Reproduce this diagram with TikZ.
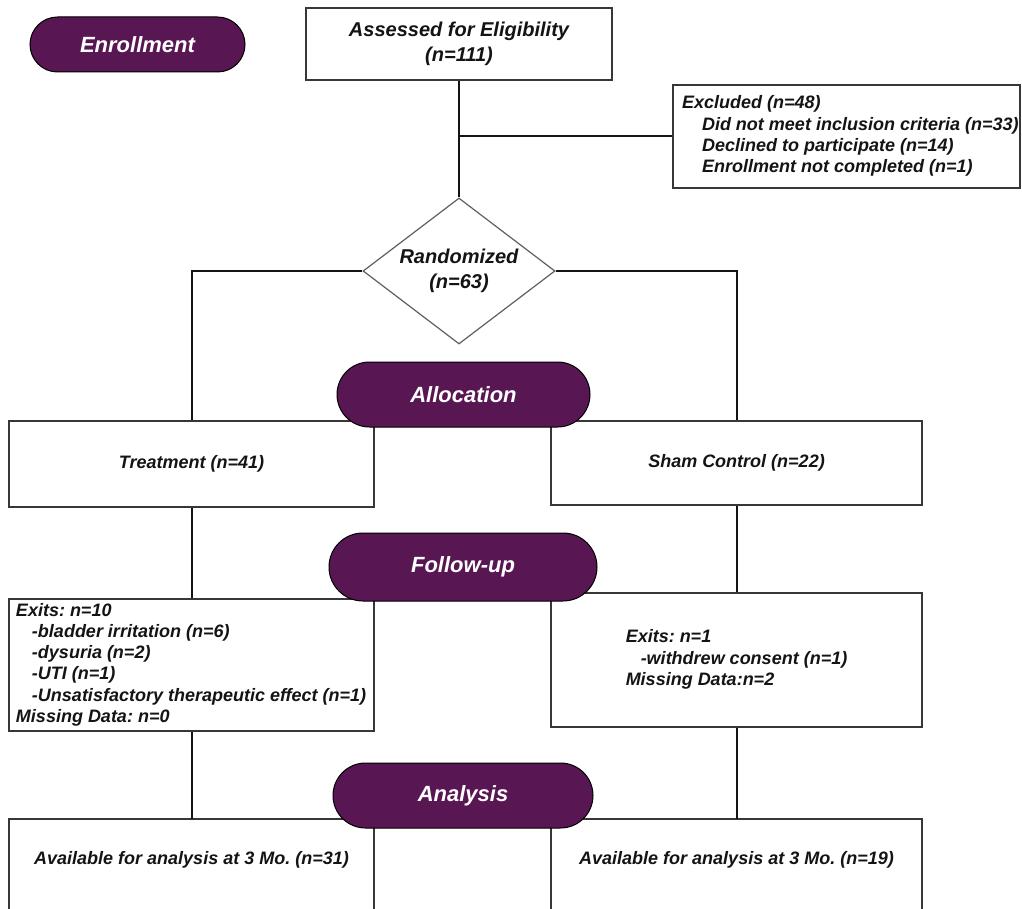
\documentclass[tikz,border=0pt]{standalone}
\usepackage{fontspec}
\setmainfont{Liberation Sans}
\frenchspacing
\usetikzlibrary{shapes.geometric,shapes.misc}
\definecolor{pillpurple}{RGB}{88,22,82}
\definecolor{boxline}{RGB}{55,55,55}
\definecolor{diamline}{RGB}{95,95,95}
\definecolor{inktext}{RGB}{20,20,20}
\begin{document}
\begin{tikzpicture}[x=1pt,y=-1pt,
  every node/.style={font=\frenchspacing\bfseries\itshape\fontsize{18}{21.3}\selectfont, text=inktext},
  bigtext/.style={font=\frenchspacing\bfseries\itshape\fontsize{20}{25.5}\selectfont},
  pill/.style={rounded rectangle, fill=pillpurple, draw=black, line width=1pt, text=white,
    font=\bfseries\itshape\fontsize{22}{26}\selectfont, inner sep=0pt},
  box/.style={rectangle, draw=boxline, line width=1.5pt, inner sep=0pt, fill=white},
  openbox/.style={draw=boxline, line width=1.5pt},
  conn/.style={draw=black!92, line width=2pt},
]
\useasboundingbox (0,0) rectangle (1022,909);
\fill[white] (0,0) rectangle (1022,909);
\clip (0,0) rectangle (1022,909);

% boxes
\node[box, bigtext, align=center, minimum width=306pt, minimum height=72pt] (assess) at (459,44) {Assessed for Eligibility\\(n=111)};
\node[box, minimum width=347pt, minimum height=103pt] (excl) at (846.5,136.5)
  {\makebox[347pt][l]{\hspace{9pt}\begin{tabular}{@{}l@{}}Excluded (n=48)\\
   \hspace{20pt}Did not meet inclusion criteria (n=33)\\
   \hspace{20pt}Declined to participate (n=14)\\
   \hspace{20pt}Enrollment not completed (n=1)\end{tabular}}};
\node[diamond, aspect=1.3, draw=diamline, line width=1.2pt, fill=white, bigtext, align=center,
  minimum width=192pt, minimum height=146pt, inner sep=0pt] (rand) at (459,271) {Randomized\\(n=63)};
\node[box, minimum width=365pt, minimum height=86pt] (treat) at (191.5,464) {Treatment (n=41)};
\node[box, minimum width=371pt, minimum height=84pt] (sham) at (736.5,463) {Sham Control (n=22)};
\node[box, minimum width=365pt, minimum height=132pt] (exitT) at (191.5,665)
  {\makebox[365pt][l]{\hspace{7pt}\begin{tabular}{@{}l@{}}Exits: n=10\\
   \hspace{16pt}-bladder irritation (n=6)\\
   \hspace{16pt}-dysuria (n=2)\\
   \hspace{16pt}-UTI (n=1)\\
   \hspace{16pt}-Unsatisfactory therapeutic effect (n=1)\\
   Missing Data: n=0\end{tabular}}};
\node[box, minimum width=371pt, minimum height=134pt] (exitS) at (736.5,660)
  {\begin{tabular}{@{}l@{}}Exits: n=1\\
   \hspace{15pt}-withdrew consent (n=1)\\
   Missing Data:n=2\end{tabular}};
\node[inner sep=0pt, minimum width=365pt, minimum height=82pt] (availT) at (191.5,860) {Available for analysis at 3 Mo. (n=31)};
\node[inner sep=0pt, minimum width=371pt, minimum height=82pt] (availS) at (736.5,860) {Available for analysis at 3 Mo. (n=19)};
\draw[openbox] ([yshift=-20pt]availT.south west) |- (availT.north east) -- ([yshift=-20pt]availT.south east);
\draw[openbox] ([yshift=-20pt]availS.south west) |- (availS.north east) -- ([yshift=-20pt]availS.south east);

% connectors
\draw[conn] (assess.south) -- (rand.north);
\draw[conn] (assess.south |- excl.west) -- (excl.west);
\draw[conn] (rand.west) -| (treat.north);
\draw[conn] (rand.east) -| (sham.north);
\draw[conn] (treat.south) -- (exitT.north);
\draw[conn] (sham.south) -- (exitS.north);
\draw[conn] (exitT.south) -- (availT.north);
\draw[conn] (exitS.south) -- (availS.north);

% phase labels
\node[pill, minimum width=215pt, minimum height=55pt] (enroll) at (137.5,44.5) {Enrollment};
\node[pill, minimum width=253pt, minimum height=65pt] (alloc) at (463.5,394.5) {Allocation};
\node[pill, minimum width=268pt, minimum height=68pt] (follow) at (463,567) {Follow-up};
\node[pill, minimum width=260pt, minimum height=65pt] (analysis) at (463,795.5) {Analysis};
\end{tikzpicture}
\end{document}
